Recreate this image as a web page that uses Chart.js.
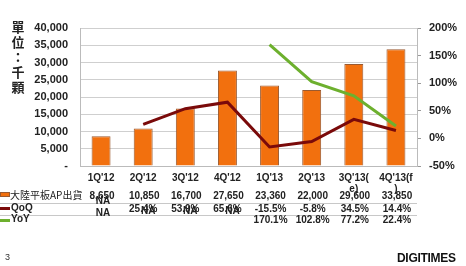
<!DOCTYPE html>
<html lang="zh-Hant">
<head>
  <meta charset="UTF-8">
  <title>大陸平板AP出貨</title>
  <script src="https://cdn.jsdelivr.net/npm/chart.js@4.4.1/dist/chart.umd.min.js"></script>
  <style>
    body { margin: 0; background: #fff; font-family: Arial, "Liberation Sans", sans-serif; }
    #wrap { position: relative; width: 466px; height: 266px; }
    #unit {
      position: absolute; left: 10px; top: 19px; width: 16px;
      font: bold 13px "Noto Sans CJK TC", sans-serif; line-height: 15px;
      text-align: center; color: #222;
    }
    #page { position: absolute; left: 5px; top: 252px; font: 9px Arial; color: #333; }
    #logo { position: absolute; left: 397px; top: 251px; font: bold 12px Arial; color: #111; letter-spacing: -0.3px; }
  </style>
</head>
<body>
<div id="wrap">
  <canvas id="myChart" width="466" height="266"></canvas>
  <div id="unit">單<br>位<br>：<br>千<br>顆</div>
  <div id="page">3</div>
  <div id="logo">DIGITIMES</div>
</div>
<script>
  const labels = [["1Q'12"], ["2Q'12"], ["3Q'12"], ["4Q'12"], ["1Q'13"], ["2Q'13"], ["3Q'13(", "e)"], ["4Q'13(f", ")"]];
  const shipments = [8650, 10850, 16700, 27650, 23360, 22000, 29600, 33850];
  const qoq = [null, 25.4, 53.9, 65.6, -15.5, -5.8, 34.5, 14.4];
  const yoy = [null, null, null, null, 170.1, 102.8, 77.2, 22.4];
  const shipText = ['8,650', '10,850', '16,700', '27,650', '23,360', '22,000', '29,600', '33,850'];
  const qoqText = ['NA', '25.4%', '53.9%', '65.6%', '-15.5%', '-5.8%', '34.5%', '14.4%'];
  const yoyText = ['NA', 'NA', 'NA', 'NA', '170.1%', '102.8%', '77.2%', '22.4%'];

  const orange = '#F2700E';
  const qoqColor = '#7A0A0A';
  const yoyColor = '#6DB02E';

  const tablePlugin = {
    id: 'dataTable',
    afterDraw(chart) {
      const ctx = chart.ctx;
      const x = chart.scales.x;
      ctx.save();
      // table rules
      ctx.strokeStyle = '#c8c8c8';
      ctx.lineWidth = 1;
      [203.5, 215.5].forEach(y => {
        ctx.beginPath(); ctx.moveTo(0, y); ctx.lineTo(chart.chartArea.right, y); ctx.stroke();
      });
      // legend keys
      ctx.fillStyle = orange; ctx.strokeStyle = '#9a5a30';
      ctx.fillRect(0, 192, 10, 5); ctx.strokeRect(0.5, 192.5, 9, 4);
      ctx.fillStyle = qoqColor; ctx.fillRect(0, 207, 10, 3);
      ctx.fillStyle = yoyColor; ctx.fillRect(0, 219, 10, 3);
      ctx.fillStyle = '#222';
      ctx.textBaseline = 'middle';
      ctx.textAlign = 'left';
      ctx.font = '10px "Noto Sans CJK TC", sans-serif';
      ctx.fillText('大陸平板AP出貨', 10, 195);
      ctx.font = 'bold 10px Arial';
      ctx.fillText('QoQ', 11, 208);
      ctx.fillText('YoY', 11, 219);
      ctx.textAlign = 'center';
      for (let i = 0; i < shipText.length; i++) {
        const cx = x.getPixelForValue(i);
        ctx.fillText(shipText[i], cx + 1, 196);
        if (i === 0) {
          ctx.fillText(qoqText[i], cx + 2, 201);
          ctx.fillText(yoyText[i], cx + 2, 213);
        } else if (i < 4) {
          ctx.fillText(qoqText[i], cx, 209);
          ctx.fillText(yoyText[i], cx + 5, 211);
        } else {
          ctx.fillText(qoqText[i], cx + 1, 209);
          ctx.fillText(yoyText[i], cx + 1, 220);
        }
      }
      ctx.restore();
    }
  };

  new Chart(document.getElementById('myChart'), {
    data: {
      labels: labels,
      datasets: [
        {
          type: 'line', label: 'QoQ', data: qoq, yAxisID: 'y1',
          borderColor: qoqColor, borderWidth: 3, pointRadius: 0, tension: 0, order: 1
        },
        {
          type: 'line', label: 'YoY', data: yoy, yAxisID: 'y1',
          borderColor: yoyColor, borderWidth: 3, pointRadius: 0, tension: 0, order: 1
        },
        {
          type: 'bar', label: '大陸平板AP出貨', data: shipments, yAxisID: 'y',
          backgroundColor: orange, borderColor: '#9a5a30', borderWidth: 1,
          barPercentage: 0.45, categoryPercentage: 1, order: 2
        }
      ]
    },
    options: {
      responsive: false,
      animation: false,
      layout: { padding: { top: 28, left: 0, right: 0, bottom: 0 } },
      plugins: { legend: { display: false }, tooltip: { enabled: false } },
      scales: {
        x: {
          grid: { display: false },
          border: { color: '#bbbbbb' },
          ticks: { color: '#222', font: { family: 'Arial', size: 10, weight: 'bold', lineHeight: 1.1 }, padding: -1, maxRotation: 0, autoSkip: false },
          afterFit(s) { s.height = 100; }
        },
        y: {
          position: 'left', min: 0, max: 40000,
          grid: { color: '#cfcfcf', drawTicks: false },
          border: { color: '#bbbbbb' },
          ticks: {
            stepSize: 5000, padding: 12, color: '#222',
            font: { family: 'Arial', size: 11, weight: 'bold' },
            callback: v => v === 0 ? '-' : v.toLocaleString('en-US')
          },
          afterFit(s) { s.width = 80; }
        },
        y1: {
          position: 'right', min: -50, max: 200,
          grid: { drawOnChartArea: false, tickLength: 4, color: '#999' },
          border: { color: '#bbbbbb' },
          ticks: {
            stepSize: 50, padding: 8, color: '#222',
            font: { family: 'Arial', size: 11, weight: 'bold' },
            callback: v => v + '%'
          },
          afterFit(s) { s.width = 49; }
        }
      }
    },
    plugins: [tablePlugin]
  });
</script>
</body>
</html>
